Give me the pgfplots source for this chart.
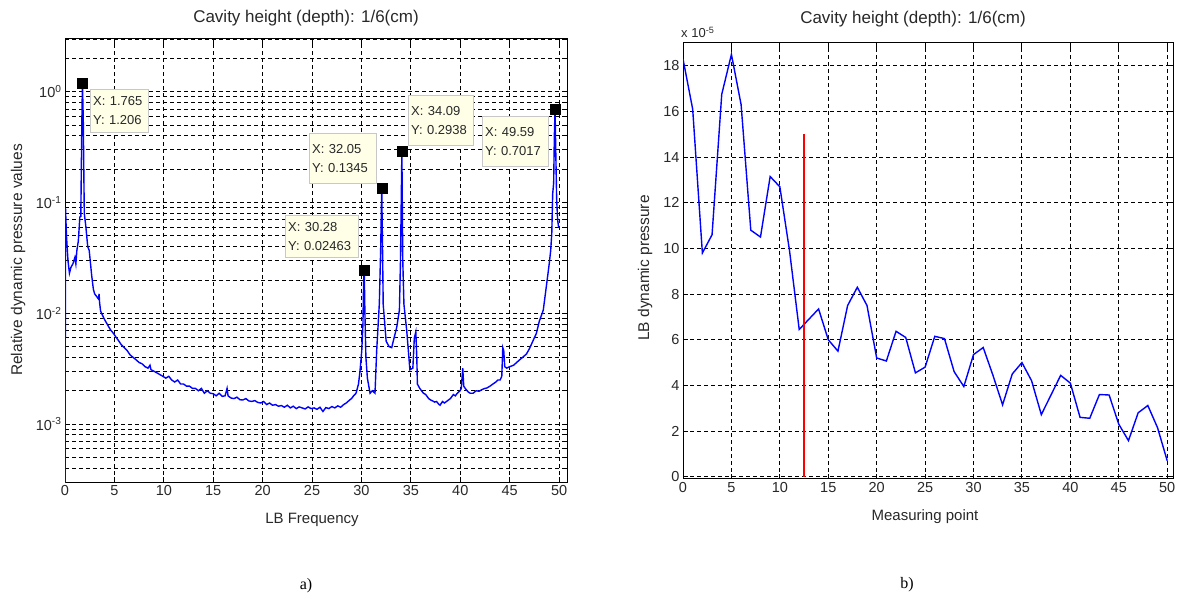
\documentclass[border=0pt]{standalone}
\usepackage{pgfplots}
\pgfplotsset{compat=1.18}
\usepackage{fontspec}
\setmainfont{Liberation Sans}
\newfontfamily\seriffont{Liberation Serif}
\definecolor{tipbg}{RGB}{255,255,232}
\definecolor{tipedge}{RGB}{200,200,200}
\definecolor{txt}{RGB}{40,40,40}

\pgfplotsset{
  mystyle/.style={
    scale only axis,
    axis line style={black, line width=1pt},
    major grid style={black, dash pattern=on 4pt off 3pt, line width=0.9pt},
    minor grid style={black, dash pattern=on 4pt off 3pt, line width=0.9pt},
    tick style={black, line width=0.9pt},
    major tick length=5pt, minor tick length=3pt,
    tick label style={font=\fontsize{14.5}{16}\selectfont, text=txt},
    /pgf/number format/assume math mode=true,
    xtick={0,5,...,50},
  }
}

\begin{document}
\begin{tikzpicture}
\path[use as bounding box] (0pt,0pt) rectangle (1180pt,599pt);

% ---------------- left axis ----------------
\begin{axis}[mystyle, at={(65pt,117pt)}, anchor=south west,
  width=502pt, height=443pt,
  xmin=0, xmax=50.8, ymode=log, ymin=3e-4, ymax=3,
  grid=both,
  ytick={1e-3,1e-2,1e-1,1},
  yticklabels={10\textsuperscript{-3},10\textsuperscript{-2},10\textsuperscript{-1},10\textsuperscript{0}},
  minor ytick={3e-4,4e-4,5e-4,6e-4,7e-4,8e-4,9e-4,
    2e-3,3e-3,4e-3,5e-3,6e-3,7e-3,8e-3,9e-3,
    2e-2,3e-2,4e-2,5e-2,6e-2,7e-2,8e-2,9e-2,
    2e-1,3e-1,4e-1,5e-1,6e-1,7e-1,8e-1,9e-1,2,3},
]
\addplot[blue, line width=1.4pt] coordinates {
(0,1e-4)(0.05,0.09)(0.15,0.05)(0.3,0.03)(0.45,0.023)(0.6,0.026)(0.8,0.028)(1.0,0.032)(1.1,0.028)(1.2,0.037)
(1.35,0.045)(1.5,0.074)(1.6,0.075)(1.7,0.5)(1.765,1.206)(1.85,0.55)(1.95,0.08)(2.1,0.062)(2.3,0.04)(2.45,0.037)
(2.55,0.03)(2.7,0.022)(2.87,0.0165)(3.0,0.015)(3.2,0.0142)(3.38,0.0135)(3.45,0.015)(3.5,0.0125)(3.6,0.0105)(3.75,0.0098)
(4.0,0.0088)(4.3,0.0079)(4.6,0.0071)(4.9,0.0066)(5.1,0.0062)(5.4,0.0057)(5.7,0.0052)(6.0,0.0049)(6.3,0.0046)(6.6,0.0042)
(6.9,0.0040)(7.2,0.0038)(7.5,0.0036)(7.8,0.0035)(8.1,0.0033)(8.4,0.0032)(8.6,0.0034)(8.7,0.0031)(9.0,0.0030)(9.3,0.0029)
(9.6,0.0028)(9.9,0.0027)(10.2,0.0026)(10.5,0.0027)(10.8,0.0025)(11.1,0.0024)(11.4,0.0025)(11.7,0.0023)(12.0,0.0023)(12.3,0.0022)
(12.6,0.0022)(12.9,0.0021)(13.2,0.0021)(13.5,0.0020)(13.8,0.0021)(14.1,0.0019)(14.4,0.0020)(14.7,0.0019)(15.0,0.00188)(15.3,0.0018)
(15.6,0.0019)(15.9,0.00178)(16.2,0.0018)(16.4,0.0021)(16.5,0.0018)(16.8,0.00172)(17.1,0.0017)(17.4,0.00175)(17.7,0.00166)(18.0,0.00165)
(18.3,0.0017)(18.6,0.00162)(18.9,0.0016)(19.2,0.00163)(19.5,0.00157)(19.8,0.00155)(20.1,0.0016)(20.4,0.0015)(20.7,0.00155)(21.0,0.00148)
(21.3,0.0015)(21.6,0.00145)(21.9,0.00147)(22.2,0.00142)(22.5,0.00148)(22.8,0.0014)(23.1,0.00145)(23.4,0.00138)(23.7,0.00143)(24.0,0.0014)
(24.3,0.00137)(24.6,0.00143)(24.9,0.00138)(25.2,0.0014)(25.5,0.00136)(25.8,0.00142)(26.1,0.0013)(26.4,0.00141)(26.7,0.00138)(27.0,0.00144)
(27.3,0.0014)(27.6,0.00146)(27.9,0.00142)(28.2,0.0015)(28.5,0.00156)(28.8,0.00165)(29.0,0.0017)(29.2,0.0018)(29.45,0.0019)(29.7,0.0023)
(29.85,0.003)(30.03,0.0046)(30.15,0.008)(30.22,0.02)(30.28,0.02463)(30.35,0.01)(30.45,0.004)(30.6,0.0026)(30.87,0.0019)(31.1,0.002)
(31.37,0.0019)(31.54,0.0046)(31.81,0.0123)(31.95,0.04)(32.05,0.1345)(32.13,0.04)(32.2,0.012)(32.5,0.0056)(32.8,0.005)(33.06,0.0049)
(33.3,0.006)(33.57,0.0075)(33.84,0.0107)(33.95,0.03)(34.09,0.2938)(34.18,0.03)(34.3,0.012)(34.58,0.007)(34.9,0.0031)(35.2,0.0032)
(35.35,0.006)(35.5,0.0068)(35.6,0.004)(35.66,0.0023)(35.9,0.0021)(36.27,0.0019)(36.5,0.00185)(36.8,0.0017)(37.0,0.00165)(37.2,0.00162)
(37.4,0.00158)(37.6,0.0016)(37.8,0.00152)(37.95,0.00148)(38.2,0.0016)(38.4,0.00155)(38.6,0.0016)(38.8,0.00165)(39.0,0.0017)(39.3,0.00185)
(39.5,0.0018)(39.7,0.0019)(39.98,0.002)(40.1,0.0021)(40.25,0.0032)(40.35,0.0022)(40.5,0.0021)(40.8,0.00195)(41.0,0.0019)(41.3,0.0019)
(41.6,0.002)(41.9,0.00198)(42.2,0.00205)(42.5,0.0021)(42.7,0.00212)(43.0,0.0022)(43.3,0.0023)(43.6,0.0024)(43.8,0.0025)(44.03,0.0025)
(44.2,0.0027)(44.3,0.0049)(44.4,0.0046)(44.5,0.0033)(44.7,0.0032)(45.0,0.0033)(45.4,0.0034)(45.7,0.0036)(46.0,0.0038)(46.3,0.004)
(46.7,0.0043)(47.0,0.0048)(47.3,0.0055)(47.7,0.0066)(48.0,0.0085)(48.4,0.0107)(48.75,0.0187)(49.0,0.028)(49.15,0.037)(49.26,0.053)
(49.35,0.12)(49.45,0.15)(49.52,0.4)(49.59,0.7017)(49.66,0.3)(49.75,0.11)(49.85,0.07)(49.95,0.06)
};
\addplot[only marks, mark=square*, mark size=5pt, black] coordinates {
(1.765,1.206)(30.28,0.02463)(32.05,0.1345)(34.09,0.2938)(49.59,0.7017)
};
\end{axis}

% ---------------- right axis ----------------
\begin{axis}[mystyle, at={(683pt,120pt)}, anchor=south west,
  width=490pt, height=436pt,
  xmin=0, xmax=50.6, ymin=-0.1, ymax=19,
  grid=major,
  ytick={0,2,...,18},
]
\addplot[blue, line width=1.4pt] coordinates {
(0,18.3)(1,16.1)(2,9.8)(3,10.6)(4,16.75)(5,18.5)(6,16.3)(7,10.8)(8,10.5)(9,13.15)
(10,12.7)(11,9.9)(12,6.45)(13,6.9)(14,7.35)(15,6.0)(16,5.5)(17,7.5)(18,8.3)(19,7.5)
(20,5.2)(21,5.07)(22,6.37)(23,6.1)(24,4.55)(25,4.8)(26,6.15)(27,6.05)(28,4.6)(29,3.95)
(30,5.35)(31,5.66)(32,4.45)(33,3.15)(34,4.5)(35,5.0)(36,4.2)(37,2.72)(38,3.58)(39,4.44)
(40,4.1)(41,2.6)(42,2.56)(43,3.6)(44,3.58)(45,2.3)(46,1.58)(47,2.8)(48,3.12)(49,2.15)(50,0.7)
};
\addplot[red, line width=1.4pt] coordinates {(12.5,0)(12.5,15)};
\end{axis}

\begin{scope}[x=1pt,y=1pt]
% ---------------- data tips ----------------
\tikzset{tip/.style={draw=tipedge, fill=tipbg, anchor=north west, align=left,
  inner xsep=3pt, inner ysep=3pt, font=\fontsize{13}{19}\selectfont, text=txt}}
\node[tip, text width=52, minimum height=43] at (90,510) {X: 1.765\\Y: 1.206};
\node[tip, text width=67, minimum height=42] at (285,384) {X: 30.28\\Y: 0.02463};
\node[tip, text width=61, minimum height=50] at (309,466) {X: 32.05\\Y: 0.1345};
\node[tip, text width=59, minimum height=50] at (408,504) {X: 34.09\\Y: 0.2938};
\node[tip, text width=60, minimum height=50] at (482,483) {X: 49.59\\Y: 0.7017};

% ---------------- titles and labels ----------------
\node[font=\fontsize{17}{20}\selectfont, text=txt] at (306,581) {Cavity height (depth): 1/6(cm)};
\node[font=\fontsize{17}{20}\selectfont, text=txt] at (913,580) {Cavity height (depth): 1/6(cm)};
\node[font=\fontsize{15}{18}\selectfont, text=txt] at (312,79) {LB Frequency};
\node[font=\fontsize{15}{18}\selectfont, text=txt] at (925,82) {Measuring point};
\node[font=\fontsize{15.5}{18}\selectfont, text=txt, rotate=90] at (18,339) {Relative dynamic pressure values};
\node[font=\fontsize{15.5}{18}\selectfont, text=txt, rotate=90] at (645,331) {LB dynamic pressure};
\node[font=\fontsize{13}{15}\selectfont, text=txt, anchor=south west, inner sep=0pt] at (681,561) {x 10\textsuperscript{-5}};
\node[font=\seriffont\fontsize{16}{18}\selectfont] at (306,13) {a)};
\node[font=\seriffont\fontsize{16}{18}\selectfont] at (907,14) {b)};
\end{scope}
\end{tikzpicture}
\end{document}
